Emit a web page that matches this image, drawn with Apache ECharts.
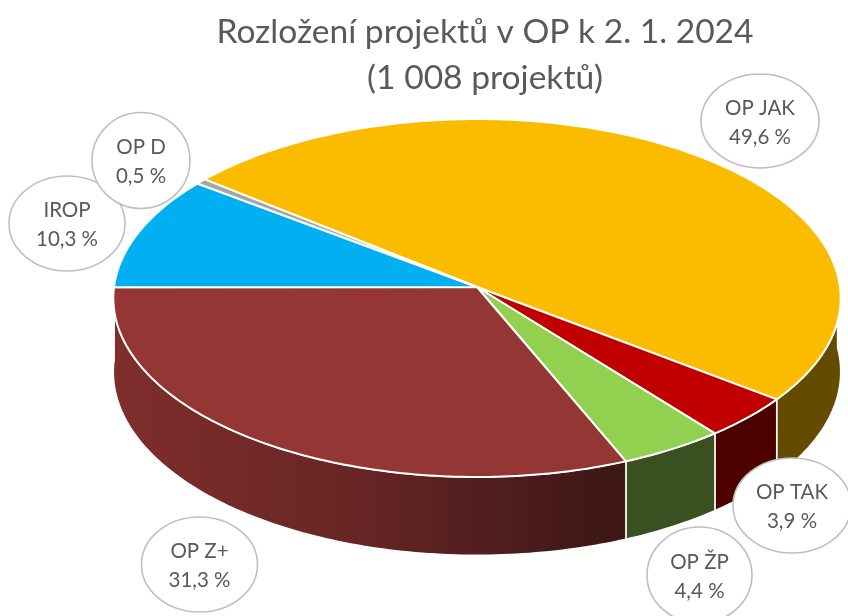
<!DOCTYPE html>
<html>
<head>
<meta charset="utf-8">
<style>html,body{margin:0;padding:0;background:#fff}#c{width:848px;height:616px}</style>
<script src="https://cdn.jsdelivr.net/npm/echarts@6/dist/echarts.min.js"></script>
</head>
<body>
<div id="c"></div>
<script>
const titleText = 'Rozložení projektů v OP k 2. 1. 2024\n(1 008 projektů)';
const categories = ['OP JAK', 'OP TAK', 'OP ŽP', 'OP Z+', 'IROP', 'OP D'];
const values = [49.6, 3.9, 4.4, 31.3, 10.3, 0.5];

// styling
const topColors = ['#fbbc00', '#c00000', '#92d050', '#943634', '#00b0f0', '#a5a5a5'];
const wallColors = ['#654b00', '#4d0000', '#3b5020', null, '#005f80', '#555555'];
const zWallStops = [[0, '#802e2c'], [0.5, '#652524'], [0.75, '#4f1d1d'], [1, '#3c1615']];
const textColor = '#595959';
const bubbleBorder = '#bfbfbf';

// layout of the tilted disc
const cx = 477, cy = 287, radX = 363, radY = 178.3, persp = 0.0615, depth = 73.5;
const startDeg = -141.2;
const bubbleLayout = [
  [760, 121, 59, 47], [792, 505.5, 59, 47.5], [699.5, 575, 52.5, 48],
  [199.5, 564.5, 58, 47.5], [67, 223.5, 58, 47.5], [141, 160.5, 49, 48]
];

const total = values.reduce((a, b) => a + b, 0);
const spans = [];
values.reduce((acc, v) => {
  const next = acc + v / total * 360;
  spans.push([acc, next]);
  return next;
}, startDeg);

function project(deg, drop) {
  const t = deg * Math.PI / 180, u = Math.cos(t), v = Math.sin(t), d = 1 - persp * v;
  return [cx + radX * u / d, cy + (radY * v + (drop ? depth : 0)) / d];
}
function arc(a, b, drop) {
  const pts = [], n = Math.max(1, Math.ceil(Math.abs(b - a)));
  for (let i = 0; i <= n; i++) pts.push(project(a + (b - a) * i / n, drop));
  return pts;
}

function renderWall(params) {
  const i = params.dataIndex;
  let [a, b] = spans[i];
  if (a > 180) { a -= 360; b -= 360; }
  a = Math.max(a, -4); b = Math.min(b, 180);
  if (b <= a) return null;
  const pts = arc(a, b, false).concat(arc(b, a, true));
  const fill = wallColors[i] || {
    type: 'linear', x: 0, y: 0, x2: 1, y2: 0,
    colorStops: zWallStops.map(s => ({ offset: s[0], color: s[1] }))
  };
  return { type: 'polygon', shape: { points: pts }, style: { fill, stroke: '#ffffff', lineWidth: 1.5, lineJoin: 'round' } };
}
function renderTop(params) {
  const i = params.dataIndex, [a, b] = spans[i];
  return { type: 'polygon', shape: { points: [[cx, cy]].concat(arc(a, b, false)) },
    style: { fill: topColors[i], stroke: '#ffffff', lineWidth: 2, lineJoin: 'round' } };
}
function renderBubble(params, api) {
  const i = params.dataIndex, b = bubbleLayout[i];
  const pct = api.value(0).toFixed(1).replace('.', ',') + ' %';
  return { type: 'group', children: [
    { type: 'ellipse', shape: { cx: b[0], cy: b[1], rx: b[2], ry: b[3] },
      style: { fill: '#ffffff', stroke: bubbleBorder, lineWidth: 1.6 } },
    { type: 'text', x: b[0], y: b[1] + 1.5, style: { text: categories[i] + '\n' + pct, align: 'center', verticalAlign: 'middle',
      fill: textColor, font: '20.5px Lato', lineHeight: 29 } }
  ] };
}

const data = values.map(v => [v]);
const chart = echarts.init(document.getElementById('c'), null, { renderer: 'canvas' });
chart.setOption({
  animation: false,
  backgroundColor: '#ffffff',
  title: { text: titleText, left: 480, top: 4, textAlign: 'center',
    textStyle: { color: textColor, fontFamily: 'Lato', fontSize: 33.6, fontWeight: 'normal', lineHeight: 46 } },
  series: [
    { type: 'custom', coordinateSystem: 'none', renderItem: renderWall, data, z: 1, silent: true },
    { type: 'custom', coordinateSystem: 'none', renderItem: renderTop, data, z: 2, silent: true },
    { type: 'custom', coordinateSystem: 'none', renderItem: renderBubble, data, z: 3, silent: true }
  ]
});
</script>
</body>
</html>
